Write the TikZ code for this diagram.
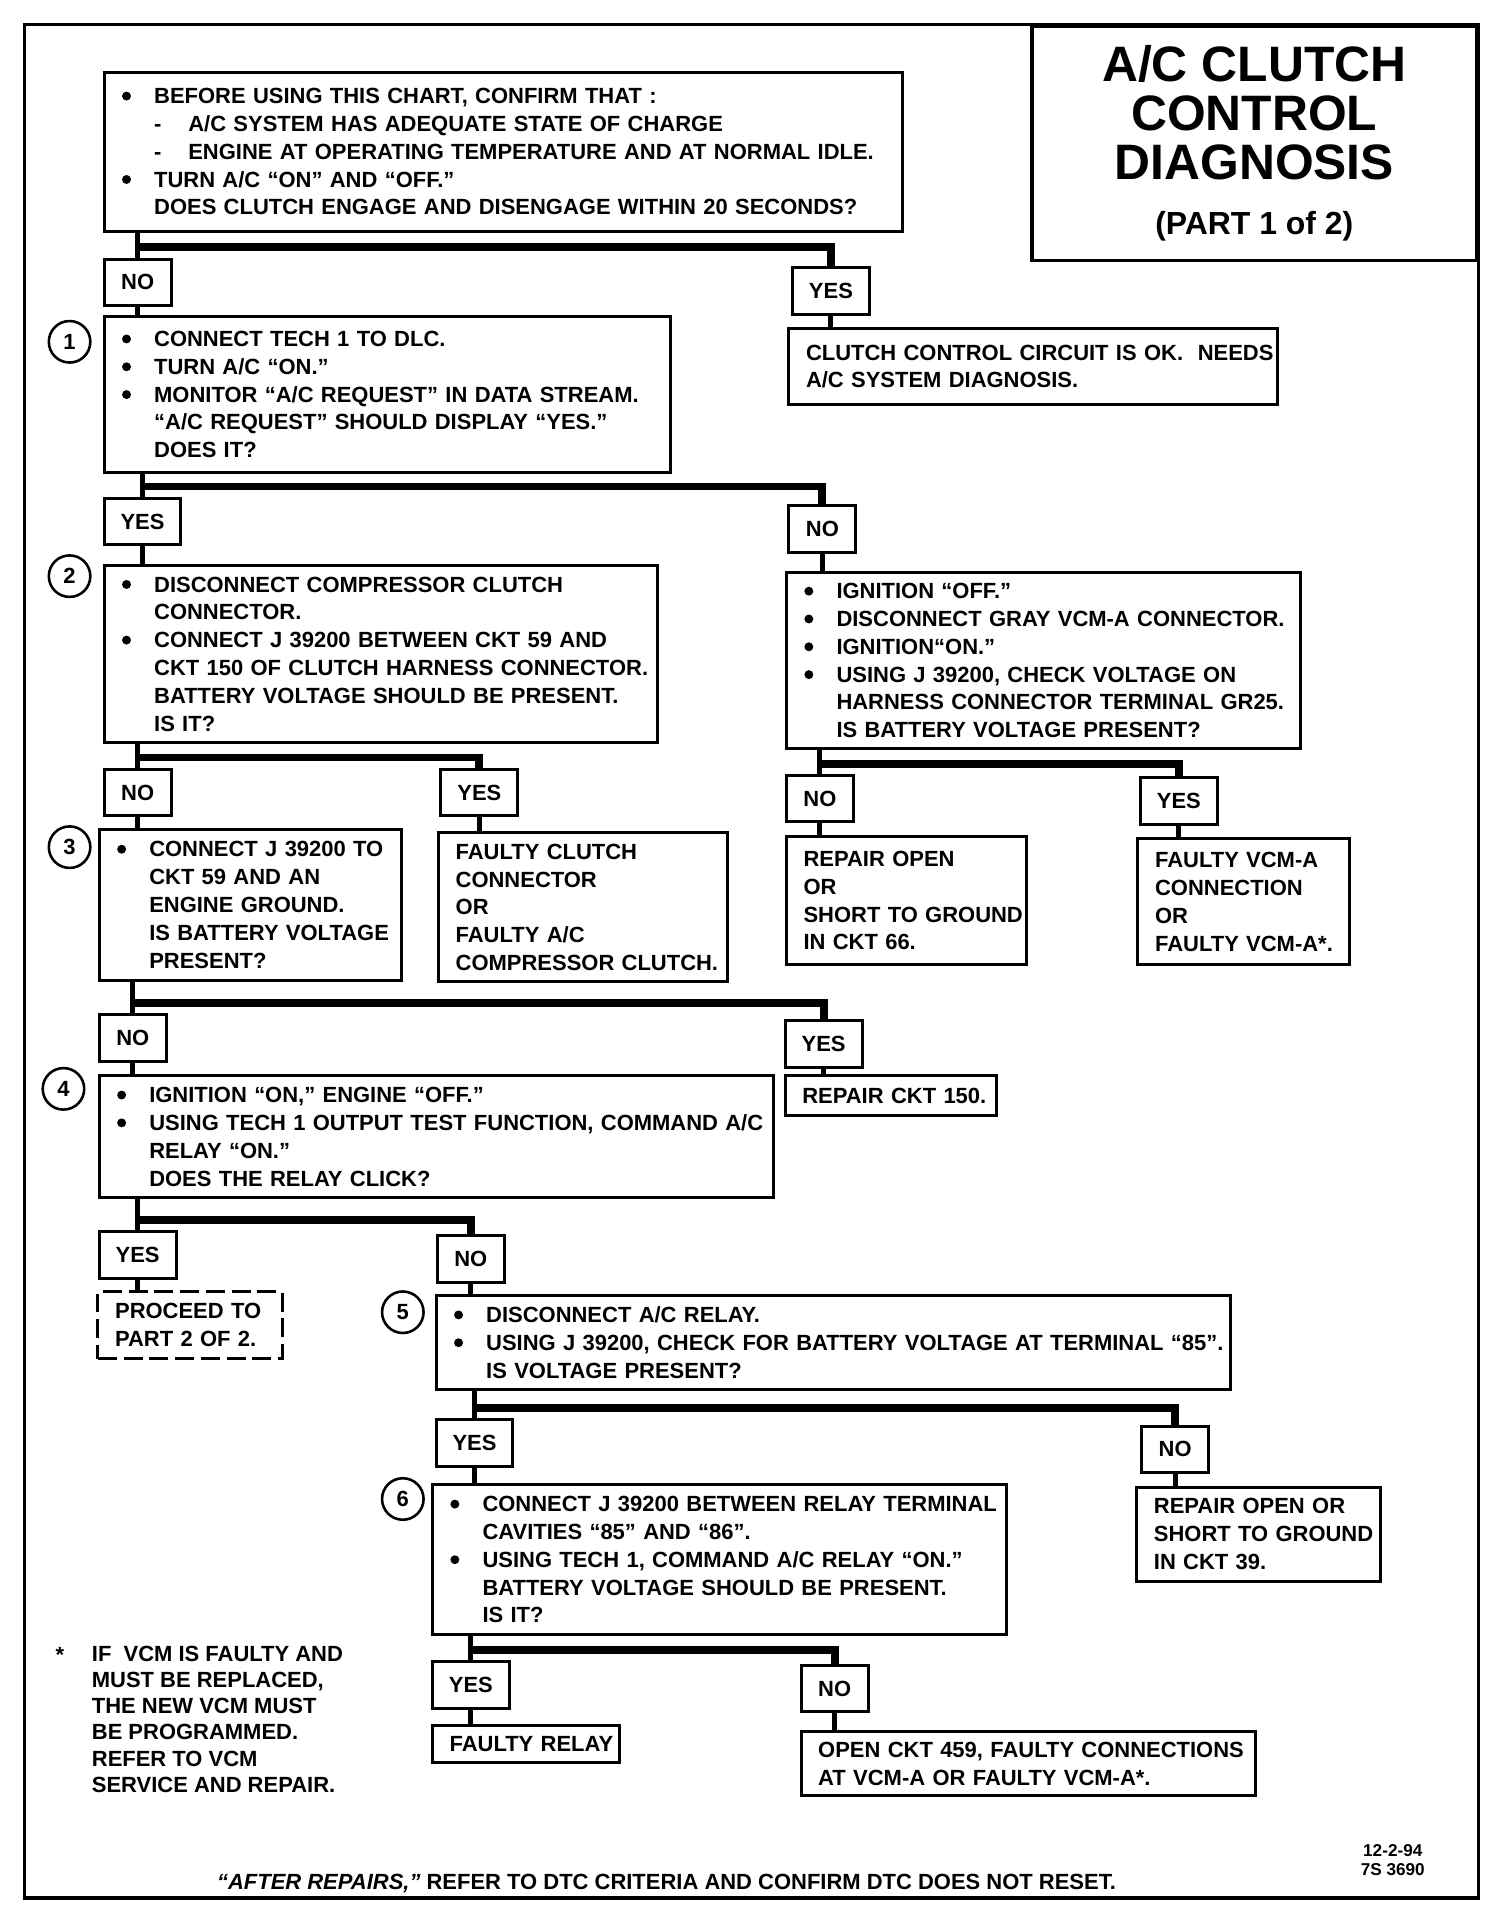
\documentclass[tikz,border=0pt]{standalone}
\usepackage{fontspec}
\setmainfont{Liberation Sans}
\usetikzlibrary{calc}

% lines inside the boxes
\newcommand{\bigdot}{\tikz[baseline=-4.4pt]\fill (0,0) circle (2.6pt);}
\newcommand{\bitem}[1]{\hspace*{10.5pt}\makebox[18.7pt][l]{\bigdot}\mbox{#1}}
\newcommand{\citem}[1]{\hspace*{29.2pt}\mbox{#1}}
\newcommand{\ditem}[1]{\hspace*{29.2pt}\makebox[19.9pt][l]{-}\mbox{#1}}
\newcommand{\pitem}[1]{\hspace*{10pt}\mbox{#1}}

\tikzset{
  box/.style={draw, line width=1.75pt, anchor=north west, align=left, inner xsep=0pt, inner ysep=2pt},
  lbl/.style={draw, line width=1.75pt, anchor=north west, inner sep=0pt, minimum height=0.95cm},
  nolbl/.style={lbl, minimum width=1.375cm},
  yeslbl/.style={lbl, minimum width=1.575cm},
  num/.style={circle, draw, line width=1.5pt, minimum size=0.85cm, inner sep=0pt},
  conn/.style={line width=4.6pt},
  stub/.style={line width=2.9pt},
  frame/.style={line width=2pt}
}

\begin{document}
\begin{tikzpicture}[x=0.025cm, y=-0.025cm, font=\bfseries\fontsize{12.8}{16.2}\selectfont]
    \useasboundingbox (0,0) rectangle (1232,1568);

    % Frame and title
    \draw[frame] (20,20) rectangle (1211,1555);
    \node[draw, line width=2pt, anchor=north east, minimum width=9.1cm, minimum height=4.8cm,
          align=center, font=\bfseries\fontsize{29}{28.5}\selectfont] (title) at (1211,20)
          {A/C CLUTCH\\CONTROL\\DIAGNOSIS\\[4pt]{\fontsize{18.6}{20}\selectfont (PART 1 of 2)}};

    % Start
    \node[box, text width=16.35cm, minimum height=3.25cm] (d0) at (84,58)
        {\bitem{BEFORE USING THIS CHART, CONFIRM THAT :}\\
         \ditem{A/C SYSTEM HAS ADEQUATE STATE OF CHARGE}\\
         \ditem{ENGINE AT OPERATING TEMPERATURE AND AT NORMAL IDLE.}\\
         \bitem{TURN A/C “ON” AND “OFF.”}\\
         \citem{DOES CLUTCH ENGAGE AND DISENGAGE WITHIN 20 SECONDS?}};
    \node[nolbl] (n0) at (84,211) {NO};
    \node[yeslbl] (y0) at (648,218) {YES};
    \node[box, text width=10cm, minimum height=1.55cm] (r0) at (645,268)
        {\pitem{CLUTCH CONTROL CIRCUIT IS OK.\ \ NEEDS}\\
         \pitem{A/C SYSTEM\ DIAGNOSIS.}};

    % Step 1
    \node[num] (c1) at (57,280) {1};
    \node[box, text width=11.6cm, minimum height=3.2cm] (d1) at (84,258)
        {\bitem{CONNECT TECH 1 TO DLC.}\\
         \bitem{TURN A/C “ON.”}\\
         \bitem{MONITOR “A/C REQUEST” IN DATA STREAM.}\\
         \citem{“A/C REQUEST” SHOULD DISPLAY “YES.”}\\
         \citem{DOES IT?}};
    \node[yeslbl] (y1) at (84,407) {YES};
    \node[nolbl] (n1) at (645,413) {NO};

    % Step 2
    \node[num] (c2) at (57,472) {2};
    \node[box, text width=11.325cm, minimum height=3.625cm] (d2) at (84,462)
        {\bitem{DISCONNECT COMPRESSOR CLUTCH}\\
         \citem{CONNECTOR.}\\
         \bitem{CONNECT J 39200 BETWEEN CKT 59 AND}\\
         \citem{CKT 150 OF CLUTCH HARNESS CONNECTOR.}\\
         \citem{BATTERY VOLTAGE SHOULD BE PRESENT.}\\
         \citem{IS IT?}};
    \node[box, text width=10.525cm, minimum height=3.6cm] (d2r) at (643,468)
        {\bitem{IGNITION “OFF.”}\\
         \bitem{DISCONNECT GRAY VCM-A CONNECTOR.}\\
         \bitem{IGNITION“ON.”}\\
         \bitem{USING J 39200, CHECK VOLTAGE ON}\\
         \citem{HARNESS CONNECTOR TERMINAL GR25.}\\
         \citem{IS BATTERY VOLTAGE PRESENT?}};
    \node[nolbl] (n2) at (84,629) {NO};
    \node[yeslbl] (y2) at (360,629) {YES};
    \node[nolbl] (n2r) at (643,634) {NO};
    \node[yeslbl] (y2r) at (933,636) {YES};

    % Step 3
    \node[num] (c3) at (57,694) {3};
    \node[box, text width=6.2cm, minimum height=3.1cm] (d3) at (80,678)
        {\bitem{CONNECT J 39200 TO}\\
         \citem{CKT 59 AND AN}\\
         \citem{ENGINE GROUND.}\\
         \citem{IS BATTERY VOLTAGE}\\
         \citem{PRESENT?}};
    \node[box, text width=5.925cm, minimum height=3.05cm] (r2) at (358,681)
        {\pitem{FAULTY CLUTCH}\\ \pitem{CONNECTOR}\\ \pitem{OR}\\
         \pitem{FAULTY A/C}\\ \pitem{COMPRESSOR CLUTCH.}};
    \node[box, text width=4.925cm, minimum height=2.625cm] (r2n) at (643,684)
        {\pitem{REPAIR OPEN}\\ \pitem{OR}\\ \pitem{SHORT TO GROUND}\\ \pitem{IN CKT 66.}};
    \node[box, text width=4.325cm, minimum height=2.575cm] (r2y) at (931,686)
        {\pitem{FAULTY VCM-A}\\ \pitem{CONNECTION}\\ \pitem{OR}\\ \pitem{FAULTY VCM-A*.}};
    \node[nolbl] (n3) at (80,830) {NO};
    \node[yeslbl] (y3) at (642,835) {YES};
    \node[box, text width=4.325cm, minimum height=0.825cm] (r3) at (642,880)
        {\pitem{REPAIR CKT 150.}};

    % Step 4
    \node[num] (c4) at (52,892) {4};
    \node[box, text width=13.8cm, minimum height=2.5cm] (d4) at (80,880)
        {\bitem{IGNITION “ON,” ENGINE “OFF.”}\\
         \bitem{USING TECH 1 OUTPUT TEST FUNCTION, COMMAND A/C}\\
         \citem{RELAY “ON.”}\\
         \citem{DOES THE RELAY CLICK?}};
    \node[yeslbl] (y4) at (80,1008) {YES};
    \node[nolbl] (n4) at (357,1011) {NO};
    \node[box, dash pattern=on 11pt off 4pt, text width=3.775cm, minimum height=1.375cm] (r4) at (79,1057)
        {\pitem{PROCEED TO}\\ \pitem{PART 2 OF 2.}};

    % Step 5
    \node[num] (c5) at (330,1075) {5};
    \node[box, text width=16.275cm, minimum height=1.925cm] (d5) at (356,1060)
        {\bitem{DISCONNECT A/C RELAY.}\\
         \bitem{USING J 39200, CHECK FOR BATTERY VOLTAGE AT TERMINAL “85”.}\\
         \citem{IS VOLTAGE PRESENT?}};
    \node[yeslbl] (y5) at (356,1162) {YES};
    \node[nolbl] (n5) at (934,1167) {NO};
    \node[box, text width=5cm, minimum height=1.925cm] (r5) at (930,1217)
        {\pitem{REPAIR OPEN OR}\\ \pitem{SHORT TO GROUND}\\ \pitem{IN CKT 39.}};

    % Step 6
    \node[num] (c6) at (330,1228) {6};
    \node[box, text width=11.75cm, minimum height=3.075cm] (d6) at (353,1215)
        {\bitem{CONNECT J 39200 BETWEEN RELAY TERMINAL}\\
         \citem{CAVITIES “85” AND “86”.}\\
         \bitem{USING TECH 1, COMMAND A/C RELAY “ON.”}\\
         \citem{BATTERY VOLTAGE SHOULD BE PRESENT.}\\
         \citem{IS IT?}};
    \node[yeslbl] (y6) at (353,1360) {YES};
    \node[nolbl] (n6) at (655,1363) {NO};
    \node[box, text width=3.825cm, minimum height=0.775cm] (r6y) at (353,1412)
        {\pitem{FAULTY RELAY}};
    \node[box, text width=9.3cm, minimum height=1.325cm] (r6n) at (655,1417)
        {\pitem{OPEN CKT 459, FAULTY CONNECTIONS}\\ \pitem{AT VCM-A OR FAULTY VCM-A*.}};

    % Branches
    \draw[stub] (d0.south -| n0.north) -- (n0.north);
    \draw[conn] ([yshift=6pt]n0.north) -| (y0.north);
    \draw[stub] (d1.south -| y1.north) -- (y1.north);
    \draw[conn] ([yshift=6pt]y1.north) -| (n1.north);
    \draw[stub] (d2.south -| n2.north) -- (n2.north);
    \draw[conn] ([yshift=6pt]n2.north) -| (y2.north);
    \draw[stub] (d2r.south -| n2r.north) -- (n2r.north);
    \draw[conn] ([yshift=6pt]n2r.north) -| (y2r.north);
    \draw[stub] (d3.south -| n3.north) -- (n3.north);
    \draw[conn] ([yshift=6pt]n3.north) -| (y3.north);
    \draw[stub] (d4.south -| y4.north) -- (y4.north);
    \draw[conn] ([yshift=6pt]y4.north) -| (n4.north);
    \draw[stub] (d5.south -| y5.north) -- (y5.north);
    \draw[conn] ([yshift=6pt]y5.north) -| (n5.north);
    \draw[stub] (d6.south -| y6.north) -- (y6.north);
    \draw[conn] ([yshift=6pt]y6.north) -| (n6.north);

    % Stubs to the next boxes
    \draw[stub] (n0.south) -- (n0.south |- d1.north);
    \draw[stub] (y0.south) -- (y0.south |- r0.north);
    \draw[stub] (y1.south) -- (y1.south |- d2.north);
    \draw[stub] (n1.south) -- (n1.south |- d2r.north);
    \draw[stub] (n2.south) -- (n2.south |- d3.north);
    \draw[stub] (y2.south) -- (y2.south |- r2.north);
    \draw[stub] (n2r.south) -- (n2r.south |- r2n.north);
    \draw[stub] (y2r.south) -- (y2r.south |- r2y.north);
    \draw[stub] (n3.south) -- (n3.south |- d4.north);
    \draw[stub] (y3.south) -- (y3.south |- r3.north);
    \draw[stub] (y4.south) -- (y4.south |- r4.north);
    \draw[stub] (n4.south) -- (n4.south |- d5.north);
    \draw[stub] (y5.south) -- (y5.south |- d6.north);
    \draw[stub] (n5.south) -- (n5.south |- r5.north);
    \draw[stub] (y6.south) -- (y6.south |- r6y.north);
    \draw[stub] (n6.south) -- (n6.south |- r6n.north);

    % Notes
    \node (star) at (49,1356) {*};
    \node[anchor=north west, align=left, inner sep=0pt, font=\bfseries\fontsize{12.8}{15.3}\selectfont] (note) at (75,1348)
        {IF\ \ VCM IS FAULTY AND\\MUST BE REPLACED,\\THE NEW VCM MUST\\BE PROGRAMMED.\\REFER TO VCM\\SERVICE AND REPAIR.};
    \node (after) at (546,1543)
        {{\itshape “AFTER REPAIRS,”} REFER TO DTC CRITERIA AND CONFIRM DTC DOES NOT RESET.};
    \node[align=center, font=\bfseries\fontsize{10}{11.4}\selectfont] (date) at (1141,1524) {12-2-94\\7S 3690};
\end{tikzpicture}
\end{document}
